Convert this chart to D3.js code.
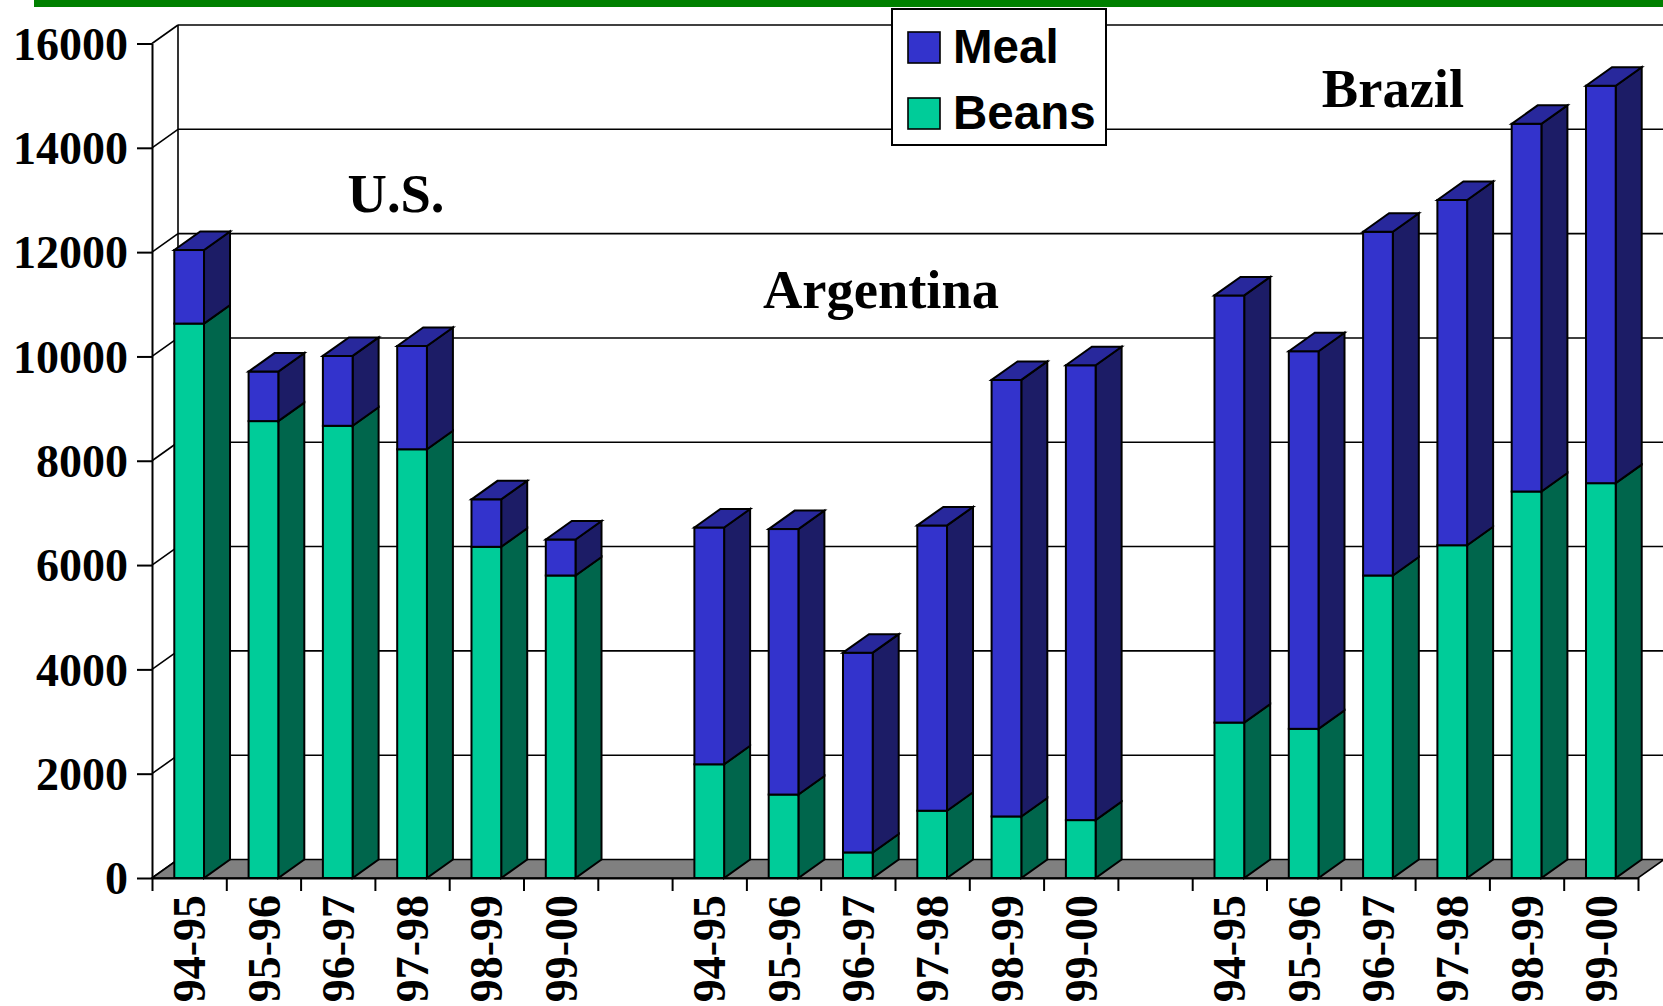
<!DOCTYPE html>
<html>
<head>
<meta charset="utf-8">
<script src="https://cdn.jsdelivr.net/npm/d3@7/dist/d3.min.js"></script>
<style>
  html, body { margin: 0; padding: 0; background: #fff; }
  svg { display: block; }
</style>
</head>
<body>
<svg id="chart" width="1663" height="1006"></svg>
<script>
// ---------- DATA ----------
const countries = ["U.S.", "Argentina", "Brazil"];
const seasons = ["94-95", "95-96", "96-97", "97-98", "98-99", "99-00"];
const beansUS  = [10630, 8760, 8670, 8220, 6350, 5800];
const mealUS   = [1410, 950, 1340, 1980, 910, 690];
const beansARG = [2180, 1600, 490, 1290, 1180, 1110];
const mealARG  = [4540, 5090, 3830, 5470, 8370, 8720];
const beansBRA = [2980, 2860, 5800, 6380, 7410, 7570];
const mealBRA  = [8190, 7240, 6590, 6620, 7050, 7620];
const yTicks = [0, 2000, 4000, 6000, 8000, 10000, 12000, 14000, 16000];
const seriesNames = ["Meal", "Beans"];

// ---------- STYLE ----------
const C = {
  mealFront: "#3333CC", mealSide: "#1C1C66", mealTop: "#28289C",
  beansFront: "#00CC99", beansSide: "#00664C",
  floor: "#808080", band: "#008000"
};
const SERIF = "'Liberation Serif','Times New Roman',serif";
const SANS = "'Liberation Sans',Arial,sans-serif";
const DX = 26, DY = -18.5;

const svg = d3.select("#chart");

// build slot list (with gaps between country groups)
const groups = [
  { name: countries[0], beans: beansUS,  meal: mealUS },
  { name: countries[1], beans: beansARG, meal: mealARG },
  { name: countries[2], beans: beansBRA, meal: mealBRA }
];
const slots = [];
const bars = [];
groups.forEach((g, gi) => {
  seasons.forEach((s, si) => {
    const key = g.name + "|" + s;
    slots.push(key);
    bars.push({ key, season: s, beans: g.beans[si], meal: g.meal[si] });
  });
  if (gi < groups.length - 1) slots.push("gap" + gi);
});

const x0 = 152, x1 = 1638;
const x = d3.scaleBand().domain(slots).range([x0, x1]).paddingInner(0.6).paddingOuter(0.3);
const xEdge = d3.scaleLinear().domain([0, slots.length]).range([x0, x1]);
const y = d3.scaleLinear().domain([0, 16000]).range([878, 43.5]);

// top green band
svg.append("rect").attr("x", 34).attr("y", 0).attr("width", 1663 - 34).attr("height", 7).attr("fill", C.band);

// ---------- WALLS / GRID ----------
const wall = svg.append("g").attr("stroke", "#000").attr("stroke-width", 1.6).attr("fill", "none");
wall.selectAll("line.grid").data(yTicks.filter(v => v > 0)).join("line")
  .attr("class", "grid")
  .attr("x1", x0 + DX).attr("x2", x1 + DX)
  .attr("y1", d => y(d) + DY).attr("y2", d => y(d) + DY);
wall.selectAll("line.diag").data(yTicks).join("line")
  .attr("class", "diag")
  .attr("x1", x0).attr("y1", d => y(d))
  .attr("x2", x0 + DX).attr("y2", d => y(d) + DY);
wall.append("line").attr("x1", x0 + DX).attr("x2", x0 + DX)
  .attr("y1", y(16000) + DY).attr("y2", y(0) + DY);

// floor
svg.append("polygon")
  .attr("points", [[x0, y(0)], [x1, y(0)], [x1 + DX, y(0) + DY], [x0 + DX, y(0) + DY]].map(p => p.join(",")).join(" "))
  .attr("fill", C.floor).attr("stroke", "#000").attr("stroke-width", 1.6);

// ---------- BARS ----------
const pts = a => a.map(p => p.join(",")).join(" ");
const barG = svg.append("g").attr("stroke", "#000").attr("stroke-width", 2).attr("stroke-linejoin", "miter");
bars.forEach(b => {
  const xl = x(b.key), xr = xl + x.bandwidth();
  const segs = [
    { v0: 0, v1: b.beans, front: C.beansFront, side: C.beansSide },
    { v0: b.beans, v1: b.beans + b.meal, front: C.mealFront, side: C.mealSide }
  ];
  const g = barG.append("g");
  segs.forEach(s => {
    g.append("polygon")
      .attr("points", pts([[xr, y(s.v0)], [xr, y(s.v1)], [xr + DX, y(s.v1) + DY], [xr + DX, y(s.v0) + DY]]))
      .attr("fill", s.side);
    g.append("rect").attr("x", xl).attr("y", y(s.v1))
      .attr("width", xr - xl).attr("height", y(s.v0) - y(s.v1))
      .attr("fill", s.front);
  });
  const top = b.beans + b.meal;
  g.append("polygon")
    .attr("points", pts([[xl, y(top)], [xl + DX, y(top) + DY], [xr + DX, y(top) + DY], [xr, y(top)]]))
    .attr("fill", C.mealTop);
});

// ---------- AXES ----------
const yAxis = svg.append("g").attr("transform", `translate(${x0},0)`)
  .call(d3.axisLeft(y).tickValues(yTicks).tickFormat(d3.format("d")).tickSize(15).tickSizeOuter(0).tickPadding(9));
yAxis.selectAll("path, line").attr("stroke", "#000").attr("stroke-width", 2);
yAxis.selectAll("text").attr("fill", "#000")
  .style("font-family", SERIF).style("font-weight", "bold").style("font-size", "46px")
  .attr("dy", "0.34em");

const xTickAxis = svg.append("g").attr("transform", `translate(0,${y(0)})`)
  .call(d3.axisBottom(xEdge).tickValues(d3.range(slots.length + 1)).tickFormat("").tickSize(13).tickSizeOuter(0));
xTickAxis.selectAll("path, line").attr("stroke", "#000").attr("stroke-width", 2);

const keyToSeason = new Map(bars.map(b => [b.key, b.season]));
const xLab = svg.append("g").attr("transform", `translate(0,${y(0)})`)
  .call(d3.axisBottom(x).tickSize(0).tickFormat(k => keyToSeason.get(k) || ""));
xLab.select("path").remove();
xLab.selectAll("text")
  .attr("x", 0).attr("y", 0).attr("dy", "0.35em")
  .attr("transform", "translate(0,17) rotate(-90)")
  .style("text-anchor", "end")
  .attr("fill", "#000")
  .style("font-family", SERIF).style("font-weight", "bold").style("font-size", "46px");

// ---------- GROUP LABELS ----------
const groupLabels = [
  { t: countries[0], cx: 396, by: 212 },
  { t: countries[1], cx: 881, by: 308 },
  { t: countries[2], cx: 1393, by: 107 }
];
svg.selectAll("text.grp").data(groupLabels).join("text")
  .attr("class", "grp")
  .attr("x", d => d.cx).attr("y", d => d.by)
  .attr("text-anchor", "middle")
  .style("font-family", SERIF).style("font-weight", "bold").style("font-size", "54.5px")
  .text(d => d.t);

// ---------- LEGEND ----------
const leg = svg.append("g");
leg.append("rect").attr("x", 892).attr("y", 9).attr("width", 214).attr("height", 136)
  .attr("fill", "#fff").attr("stroke", "#000").attr("stroke-width", 2);
const legColors = [C.mealFront, C.beansFront];
seriesNames.forEach((n, i) => {
  const yy = 32 + i * 66;
  leg.append("rect").attr("x", 908).attr("y", yy).attr("width", 32).attr("height", 31)
    .attr("fill", legColors[i]).attr("stroke", "#000").attr("stroke-width", 1.6);
  leg.append("text").attr("x", 953).attr("y", yy + 31)
    .style("font-family", SANS).style("font-weight", "bold").style("font-size", "47.5px")
    .text(n);
});
</script>
</body>
</html>
